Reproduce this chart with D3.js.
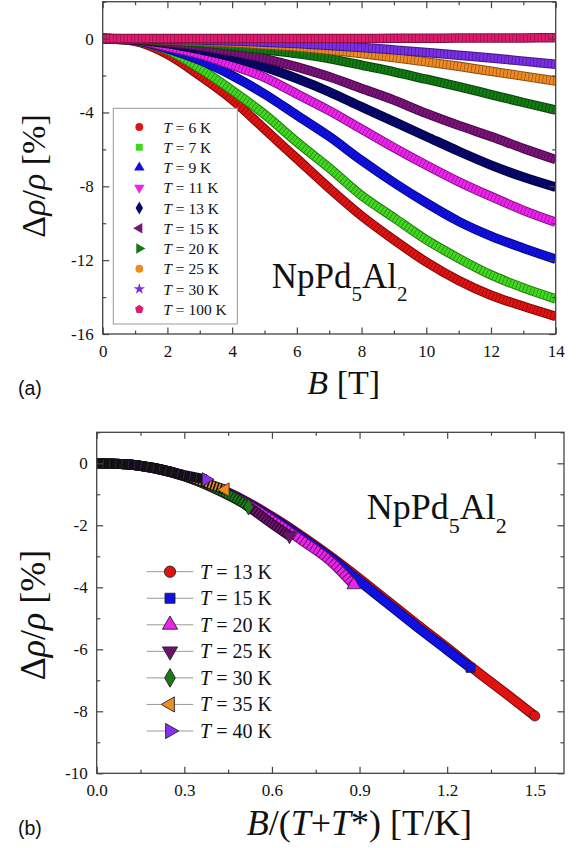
<!DOCTYPE html>
<html lang="en">
<head>
<meta charset="UTF-8">
<title>NpPd5Al2 magnetoresistance</title>
<script src="https://cdn.jsdelivr.net/npm/d3@7"></script>
<style>
  body { margin: 0; background: #fff; }
  svg text { font-family: "Liberation Serif", "Times New Roman", serif; fill: #111; }
</style>
</head>
<body>
<script>
// ---- panel (a): delta rho / rho vs B at fixed temperature ----
const fieldB = [0, 1, 2, 3, 4, 5, 6, 7, 8, 9, 10, 11, 12, 13, 14];
const tempsA = ["6", "7", "9", "11", "13", "15", "20", "25", "30", "100"];
const rho6K   = [0, -0.15, -0.85, -2.0, -3.3, -4.9, -6.5, -8.1, -9.6, -10.9, -12.1, -13.1, -13.9, -14.5, -15.05];
const rho7K   = [0, -0.12, -0.63, -1.62, -2.8, -4.1, -5.6, -7.0, -8.5, -9.7, -10.9, -11.9, -12.8, -13.5, -14.1];
const rho9K   = [0, -0.1, -0.54, -1.17, -2.0, -3.0, -4.15, -5.3, -6.6, -7.8, -8.9, -9.9, -10.7, -11.35, -11.95];
const rho11K  = [0, -0.08, -0.45, -0.85, -1.44, -2.1, -3.0, -3.9, -4.9, -5.9, -6.85, -7.75, -8.55, -9.3, -9.95];
const rho13K  = [0, -0.06, -0.27, -0.6, -1.0, -1.53, -2.16, -2.88, -3.7, -4.5, -5.3, -6.1, -6.85, -7.5, -8.05];
const rho15K  = [0, -0.05, -0.22, -0.41, -0.72, -1.08, -1.53, -2.07, -2.7, -3.33, -4.05, -4.7, -5.3, -5.95, -6.55];
const rho20K  = [0, -0.03, -0.13, -0.23, -0.4, -0.6, -0.81, -1.08, -1.44, -1.8, -2.2, -2.6, -3.03, -3.46, -3.87];
const rho25K  = [0, -0.02, -0.07, -0.14, -0.22, -0.33, -0.45, -0.62, -0.81, -1.03, -1.26, -1.5, -1.77, -2.03, -2.3];
const rho30K  = [0, -0.01, -0.05, -0.08, -0.13, -0.19, -0.27, -0.37, -0.48, -0.61, -0.75, -0.9, -1.05, -1.22, -1.39];
const rho100K = [0, 0, 0, 0, 0, 0, 0, 0.01, 0.01, 0.02, 0.02, 0.03, 0.03, 0.04, 0.05];
const seriesA = [rho6K, rho7K, rho9K, rho11K, rho13K, rho15K, rho20K, rho25K, rho30K, rho100K];

// ---- panel (b): scaled field B/(T+T*) ----
const scaledX = [0, 0.1, 0.2, 0.3, 0.4, 0.5, 0.6, 0.7, 0.8, 0.9, 1.0, 1.1, 1.2, 1.3, 1.4];
const tempsB = ["13", "15", "20", "25", "30", "35", "40"];
const scaledEnd = [1.5, 1.28, 0.88, 0.66, 0.52, 0.44, 0.375]; // last x of each sweep
// values at scaledX[i], the last one belongs to scaledEnd
const rhoB13 = [0, -0.03, -0.16, -0.4, -0.74, -1.17, -1.72, -2.33, -3.0, -3.72, -4.47, -5.22, -5.95, -6.7, -7.42, -8.15];
const rhoB15 = [0, -0.03, -0.16, -0.4, -0.75, -1.2, -1.76, -2.38, -3.05, -3.8, -4.55, -5.3, -6.02, -6.6];
const rhoB20 = [0, -0.03, -0.17, -0.42, -0.78, -1.24, -1.82, -2.47, -3.15, -3.92];
const rhoB25 = [0, -0.03, -0.17, -0.42, -0.8, -1.28, -1.95, -2.34];
const rhoB30 = [0, -0.03, -0.16, -0.41, -0.78, -1.27, -1.4];
const rhoB35 = [0, -0.03, -0.16, -0.4, -0.72, -0.85];
const rhoB40 = [0, -0.03, -0.15, -0.38, -0.52];
const seriesB = [rhoB13, rhoB15, rhoB20, rhoB25, rhoB30, rhoB35, rhoB40];

// ---- styles ----
const serif = "'Liberation Serif', 'Times New Roman', serif";
const pentagon = {
  draw(ctx, size) {
    const r = Math.sqrt(size / 2.378);
    for (let i = 0; i < 5; i++) {
      const a = -Math.PI / 2 + i * 2 * Math.PI / 5;
      if (i) ctx.lineTo(r * Math.cos(a), r * Math.sin(a));
      else ctx.moveTo(r * Math.cos(a), r * Math.sin(a));
    }
    ctx.closePath();
  }
};
const colorsA = ["#e01212", "#3fd81e", "#1010e6", "#ee22ee", "#06066e", "#7a127a", "#127a12", "#ef8a22", "#7a2ee6", "#e01b6f"];
const shapesA = [
  [d3.symbolCircle, 0], [d3.symbolSquare, 0], [d3.symbolTriangle, 0], [d3.symbolTriangle, 180],
  [d3.symbolDiamond, 0], [d3.symbolTriangle, -90], [d3.symbolTriangle, 90], [d3.symbolCircle, 0],
  [d3.symbolStar, 0], [pentagon, 0]
];
const colorsB = ["#e01212", "#1010e0", "#ee22ee", "#6e1270", "#1a7a1a", "#f08c22", "#8a2ef0"];
const shapesB = [
  [d3.symbolCircle, 0], [d3.symbolSquare, 0], [d3.symbolTriangle, 0], [d3.symbolTriangle, 180],
  [d3.symbolDiamond, 0], [d3.symbolTriangle, -90], [d3.symbolTriangle, 90]
];
const dashB = ["none", "none", "3 1", "2 1.2", "2 1.2", "1.6 1.6", "0.3 6"];
const edgeB = ["#7a0a0a", "#0a0a70", "#6a106a", "#2a062a", "#0a3a0a", "#111", "#111"];

const w = 580, h = 848;
const svg = d3.select("body").append("svg").attr("width", w).attr("height", h);

function drawAxes(x, y, xMajor, xMinor, yMajor, yMinor, fmtX) {
  const [x0, x1] = x.range(), [y0, y1] = y.range();
  const g = svg.append("g");
  const add = (axis, tx, ty) => g.append("g")
    .attr("transform", `translate(${tx},${ty})`)
    .call(axis)
    .call(s => s.select(".domain").remove());
  add(d3.axisBottom(x).tickValues(xMajor).tickSize(-6.5).tickPadding(11).tickFormat(fmtX), 0, y0);
  add(d3.axisBottom(x).tickValues(xMinor).tickSize(-3.5).tickFormat(""), 0, y0);
  add(d3.axisTop(x).tickValues(xMajor).tickSize(-6.5).tickFormat(""), 0, y1);
  add(d3.axisTop(x).tickValues(xMinor).tickSize(-3.5).tickFormat(""), 0, y1);
  add(d3.axisLeft(y).tickValues(yMajor).tickSize(-6.5).tickPadding(9).tickFormat(d => String(d)), x0, 0);
  add(d3.axisLeft(y).tickValues(yMinor).tickSize(-3.5).tickFormat(""), x0, 0);
  add(d3.axisRight(y).tickValues(yMajor).tickSize(-6.5).tickFormat(""), x1, 0);
  add(d3.axisRight(y).tickValues(yMinor).tickSize(-3.5).tickFormat(""), x1, 0);
  g.selectAll(".tick line").attr("stroke", "#444").attr("stroke-width", 1.2);
  g.selectAll(".tick text").attr("fill", "#111")
    .style("font-family", serif).style("font-size", "17px");
  g.append("rect")
    .attr("x", x0).attr("y", y1).attr("width", x1 - x0).attr("height", y0 - y1)
    .attr("fill", "none").attr("stroke", "#444").attr("stroke-width", 1.3);
}

function clip(id, x, y) {
  const [x0, x1] = x.range(), [y0, y1] = y.range();
  svg.append("clipPath").attr("id", id).append("rect")
    .attr("x", x0).attr("y", y1).attr("width", x1 - x0).attr("height", y0 - y1);
}

function symbolPath(shape, size) {
  return d3.symbol().type(shape[0]).size(size)();
}

// ================= panel (a) =================
const xA = d3.scaleLinear().domain([0, 14]).range([102.7, 555.7]);
const yA = d3.scaleLinear().domain([-16, 2]).range([334, 1.7]);
clip("clipA", xA, yA);

const lineA = d3.line().x((d, i) => xA(fieldB[i])).y(d => yA(d)).curve(d3.curveMonotoneX);
const gA = svg.append("g").attr("clip-path", "url(#clipA)");
seriesA.forEach((s, k) => {
  gA.append("path").attr("d", lineA(s)).attr("fill", "none")
    .attr("stroke", d3.color(colorsA[k]).darker(1.6)).attr("stroke-width", 9.5);
  gA.append("path").attr("d", lineA(s)).attr("fill", "none")
    .attr("stroke", colorsA[k]).attr("stroke-width", 7.5)
    .attr("stroke-dasharray", "3 0.6");
});

drawAxes(xA, yA, d3.range(0, 15, 2), d3.range(1, 14, 2), [0, -4, -8, -12, -16], [2, -2, -6, -10, -14], d => String(d));

// legend (a)
const legA = svg.append("g");
legA.append("rect").attr("x", 113.3).attr("y", 108.3).attr("width", 124).attr("height", 215.7)
  .attr("fill", "#fff").attr("stroke", "#999").attr("stroke-width", 1);
tempsA.forEach((t, k) => {
  const cy = 127 + k * 20.25;
  legA.append("path").attr("d", symbolPath(shapesA[k], shapesA[k][0] === d3.symbolStar ? 40 : 48))
    .attr("transform", `translate(139.3,${cy}) rotate(${shapesA[k][1]})`)
    .attr("fill", colorsA[k]);
  const tx = legA.append("text").attr("x", 163.3).attr("y", cy + 5.5).style("font-size", "15.5px");
  tx.append("tspan").attr("font-style", "italic").text("T");
  tx.append("tspan").text(` = ${t} K`);
});

// compound label (a)
const compA = svg.append("text").attr("x", 271.7).attr("y", 288.3).attr("font-size", 35);
compA.append("tspan").text("NpPd");
compA.append("tspan").attr("font-size", 21).attr("dy", 13).text("5");
compA.append("tspan").attr("dy", -13).text("Al");
compA.append("tspan").attr("font-size", 21).attr("dy", 13).text("2");

// axis titles (a)
const xtA = svg.append("text").attr("x", 343.7).attr("y", 394).attr("text-anchor", "middle").attr("font-size", 34);
xtA.append("tspan").attr("font-style", "italic").text("B");
xtA.append("tspan").text(" [T]");
const ytA = svg.append("text").attr("transform", "translate(45,176) rotate(-90)").attr("text-anchor", "middle").attr("font-size", 34);
ytA.append("tspan").text("Δ");
ytA.append("tspan").attr("font-style", "italic").text("ρ");
ytA.append("tspan").text("/");
ytA.append("tspan").attr("font-style", "italic").text("ρ");
ytA.append("tspan").text(" [%]");
svg.append("text").attr("x", 18).attr("y", 395).attr("font-size", 19.5)
  .style("font-family", "'Liberation Sans', Arial, sans-serif").attr("fill", "#222").text("(a)");

// ================= panel (b) =================
const xB = d3.scaleLinear().domain([0, 1.6]).range([96.7, 564]);
const yB = d3.scaleLinear().domain([-10, 1]).range([773.3, 432.3]);
clip("clipB", xB, yB);

const gB = svg.append("g").attr("clip-path", "url(#clipB)");
seriesB.forEach((s, k) => {
  const pts = s.map((v, i) => [i === s.length - 1 ? scaledEnd[k] : scaledX[i], v]);
  const line = d3.line().x(d => xB(d[0])).y(d => yB(d[1])).curve(d3.curveMonotoneX);
  gB.append("path").attr("d", line(pts)).attr("fill", "none")
    .attr("stroke", edgeB[k]).attr("stroke-width", 10);
  gB.append("path").attr("d", line(pts)).attr("fill", "none")
    .attr("stroke", colorsB[k]).attr("stroke-width", 8)
    .attr("stroke-dasharray", dashB[k]);
  const last = pts[pts.length - 1];
  gB.append("path").attr("d", symbolPath(shapesB[k], 80))
    .attr("transform", `translate(${xB(last[0])},${yB(last[1])}) rotate(${shapesB[k][1]})`)
    .attr("fill", colorsB[k]).attr("stroke", "#222").attr("stroke-width", 0.8);
});

drawAxes(xB, yB, [0, 0.3, 0.6, 0.9, 1.2, 1.5], [0.15, 0.45, 0.75, 1.05, 1.35], [0, -2, -4, -6, -8, -10], [1, -1, -3, -5, -7, -9], d3.format(".1f"));

// legend (b)
const legB = svg.append("g");
tempsB.forEach((t, k) => {
  const cy = 571.7 + k * 26.55;
  legB.append("line").attr("x1", 146.7).attr("x2", 193.3).attr("y1", cy).attr("y2", cy)
    .attr("stroke", "#999").attr("stroke-width", 1);
  legB.append("path").attr("d", symbolPath(shapesB[k], 100))
    .attr("transform", `translate(170,${cy}) rotate(${shapesB[k][1]})`)
    .attr("fill", colorsB[k]).attr("stroke", "#222").attr("stroke-width", 0.9);
  const tx = legB.append("text").attr("x", 200).attr("y", cy + 7).style("font-size", "20px");
  tx.append("tspan").attr("font-style", "italic").text("T");
  tx.append("tspan").text(` = ${t} K`);
});

// compound label (b)
const compB = svg.append("text").attr("x", 366.7).attr("y", 519.3).attr("font-size", 36);
compB.append("tspan").text("NpPd");
compB.append("tspan").attr("font-size", 22).attr("dy", 13.5).text("5");
compB.append("tspan").attr("dy", -13.5).text("Al");
compB.append("tspan").attr("font-size", 22).attr("dy", 13.5).text("2");

// axis titles (b)
const xtB = svg.append("text").attr("x", 359.3).attr("y", 835).attr("text-anchor", "middle").attr("font-size", 36);
xtB.append("tspan").attr("font-style", "italic").text("B");
xtB.append("tspan").text("/(");
xtB.append("tspan").attr("font-style", "italic").text("T");
xtB.append("tspan").text("+");
xtB.append("tspan").attr("font-style", "italic").text("T");
xtB.append("tspan").text("*) [T/K]");
const ytB = svg.append("text").attr("transform", "translate(45,615) rotate(-90)").attr("text-anchor", "middle").attr("font-size", 36);
ytB.append("tspan").text("Δ");
ytB.append("tspan").attr("font-style", "italic").text("ρ");
ytB.append("tspan").text("/");
ytB.append("tspan").attr("font-style", "italic").text("ρ");
ytB.append("tspan").text(" [%]");
svg.append("text").attr("x", 18).attr("y", 835).attr("font-size", 19.5)
  .style("font-family", "'Liberation Sans', Arial, sans-serif").attr("fill", "#222").text("(b)");
</script>
</body>
</html>
